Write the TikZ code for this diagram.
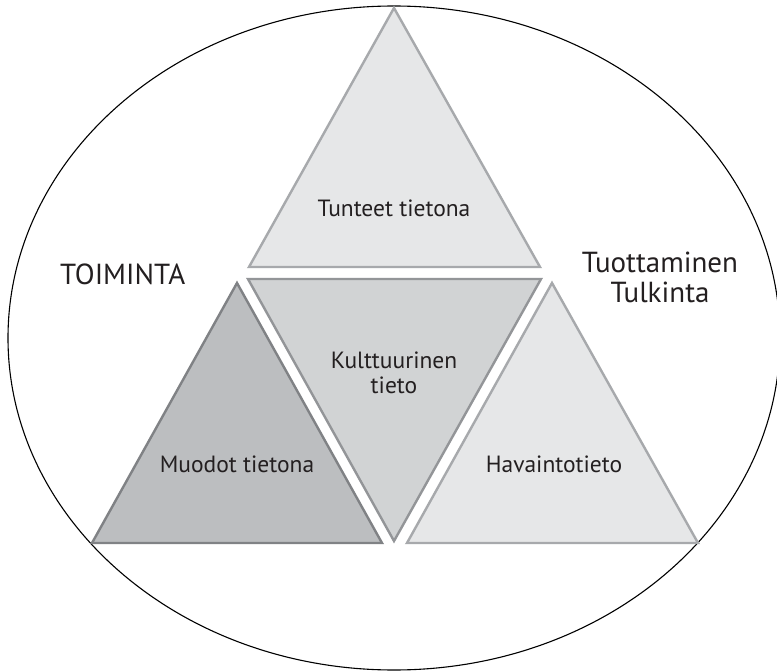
\documentclass[tikz,border=0pt]{standalone}
\usepackage{fontspec}
\setmainfont{PT Sans}
\definecolor{triLight}{HTML}{E6E7E8}
\definecolor{triLightEdge}{HTML}{A7A9AC}
\definecolor{triMid}{HTML}{D1D3D4}
\definecolor{triMidEdge}{HTML}{939598}
\definecolor{triDark}{HTML}{BCBEC0}
\definecolor{triDarkEdge}{HTML}{808285}
\definecolor{txt}{HTML}{231F20}
\begin{document}
\begin{tikzpicture}[x=1pt,y=-1pt,
  tri/.style={line width=2.4pt,line join=miter},
  lbl/.style={text=txt,inner sep=0pt,anchor=base,font=\fontsize{23.5}{28}\selectfont},
  biglbl/.style={text=txt,inner sep=0pt,font=\fontsize{29}{34}\selectfont}]
\useasboundingbox (0,0) rectangle (777,671);
\clip (0,0) rectangle (777,671);
\fill[white] (0,0) rectangle (777,671);
% outer ellipse
\draw[line width=1.1pt,black] (394,338) ellipse [x radius=386, y radius=332];
% triangles
\draw[tri,fill=triLight,draw=triLightEdge] (394,8) -- (540,267) -- (249,267) -- cycle;
\draw[tri,fill=triMid,draw=triMidEdge] (248,279) -- (541,279) -- (394,541) -- cycle;
\draw[tri,fill=triDark,draw=triDarkEdge] (237,283) -- (382,543) -- (92,543) -- cycle;
\draw[tri,fill=triLight,draw=triLightEdge] (552,283) -- (698,543) -- (407,543) -- cycle;
% labels
\node[lbl] (tunteet) at (394,217) {Tunteet tietona};
\node[lbl] (kult1) at (394,368) {Kulttuurinen};
\node[lbl] (kult2) at (394,393) {tieto};
\node[lbl] (muodot) at (237,472) {Muodot tietona};
\node[lbl] (havainto) at (554,472) {Havaintotieto};
\node[biglbl,anchor=base west] (toiminta) at (60,285) {TOIMINTA};
\node[biglbl,anchor=base] (tuott) at (660,273) {Tuottaminen};
\node[biglbl,anchor=base] (tulk) at (660,302) {Tulkinta};
\end{tikzpicture}
\end{document}
